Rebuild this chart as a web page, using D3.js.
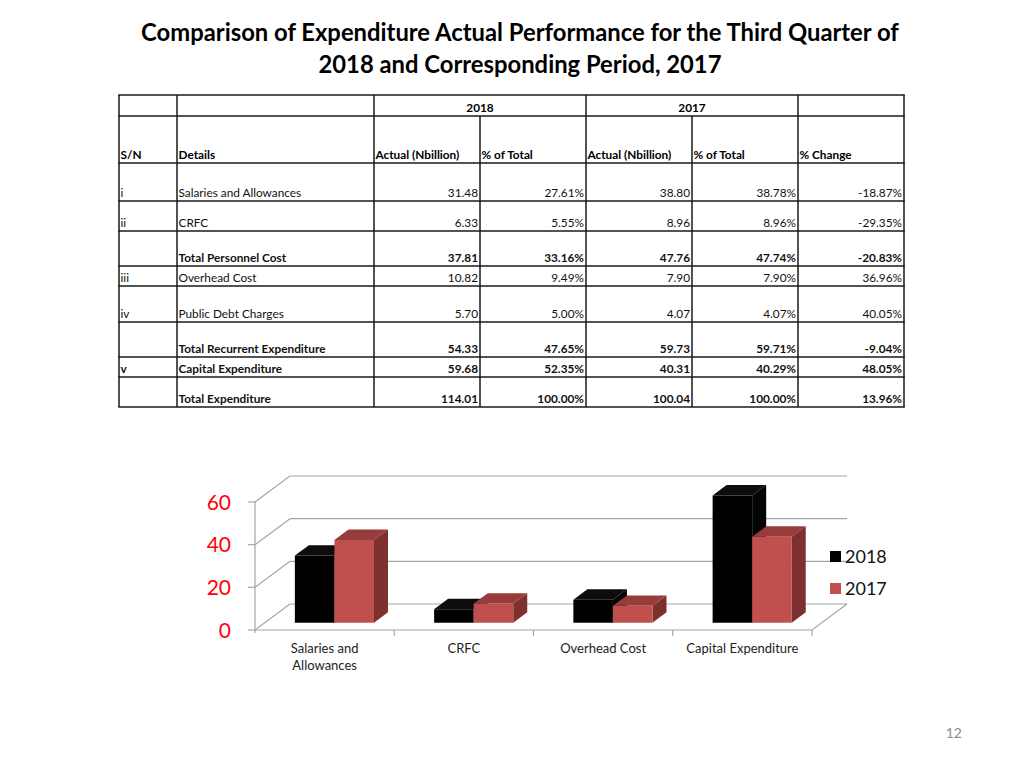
<!DOCTYPE html>
<html>
  <head>
    <meta charset="utf-8">
    <title>Expenditure comparison</title>
    <script src="https://cdn.jsdelivr.net/npm/d3@7"></script>
    <style>
      body { margin: 0; background: #fff; }
      svg { display: block; font-family: Lato, "Open Sans", sans-serif; }
    </style>
  </head>
  <body>
    <svg id="slide" width="1024" height="768"></svg>

    <script>
      // table data
      tableSn = ["i", "ii", "", "iii", "iv", "", "v", ""];
      tableDetails = [
        "Salaries and Allowances",
        "CRFC",
        "Total Personnel Cost",
        "Overhead Cost",
        "Public Debt Charges",
        "Total Recurrent Expenditure",
        "Capital Expenditure",
        "Total Expenditure"
      ];
      boldRows = [false, false, true, false, false, true, true, true];
      actual2018 = [31.48, 6.33, 37.81, 10.82, 5.70, 54.33, 59.68, 114.01];
      share2018 = [27.61, 5.55, 33.16, 9.49, 5.00, 47.65, 52.35, 100.00];
      actual2017 = [38.80, 8.96, 47.76, 7.90, 4.07, 59.73, 40.31, 100.04];
      share2017 = [38.78, 8.96, 47.74, 7.90, 4.07, 59.71, 40.29, 100.00];
      pctChange = [-18.87, -29.35, -20.83, 36.96, 40.05, -9.04, 48.05, 13.96];
      headerLabels = ["S/N", "Details", "Actual (Nbillion)", "% of Total", "Actual (Nbillion)", "% of Total", "% Change"];

      // chart data
      categories = ["Salaries and Allowances", "CRFC", "Overhead Cost", "Capital Expenditure"];
      series = ["2018", "2017"];
      values2018 = [31.48, 6.33, 10.82, 59.68];
      values2017 = [38.80, 8.96, 7.90, 40.31];
      yTicks = [0, 20, 40, 60];

      // layout
      colEdges = [119, 177, 374, 480, 586, 692, 798, 904];
      rowHeights = [38, 30, 35, 20, 36, 35, 20, 30];
      tableTop = 95;
      headRow1 = 21;
      headRow2 = 47;
      cellFont = "11.8px";

      svg = d3.select("#slide");

      // title
      svg.append("g")
        .selectAll("text")
        .data(["Comparison of Expenditure Actual Performance for the Third Quarter of", "2018 and Corresponding Period, 2017"])
        .enter().append("text")
          .attr("x", 520)
          .attr("y", function(d, i) { return 41 + i * 32; })
          .attr("text-anchor", "middle")
          .style("font-size", "23.8px")
          .style("font-weight", "bold")
          .style("fill", "#000")
          .text(function(d) { return d; });

      // table
      table = svg.append("g").attr("id", "table");
      rowBottoms = [];
      acc = tableTop + headRow1 + headRow2;
      rowHeights.forEach(function(h) { acc += h; rowBottoms.push(acc); });
      tableBottom = acc;
      lineColour = "#1a1a1a";

      // horizontal lines
      hLines = [tableTop, tableTop + headRow1, tableTop + headRow1 + headRow2].concat(rowBottoms);
      table.selectAll(".hline")
        .data(hLines)
        .enter().append("line")
          .attr("x1", colEdges[0] - 0.75)
          .attr("x2", colEdges[colEdges.length - 1] + 0.75)
          .attr("y1", function(d) { return d; })
          .attr("y2", function(d) { return d; })
          .style("stroke", lineColour)
          .style("stroke-width", 1.5);

      // vertical lines (split columns start below the year row)
      table.selectAll(".vline")
        .data(colEdges)
        .enter().append("line")
          .attr("x1", function(d) { return d; })
          .attr("x2", function(d) { return d; })
          .attr("y1", function(d, i) { return (i == 3 || i == 5) ? tableTop + headRow1 : tableTop; })
          .attr("y2", tableBottom)
          .style("stroke", lineColour)
          .style("stroke-width", 1.5);

      // year headers
      table.selectAll(".year")
        .data(series)
        .enter().append("text")
          .attr("x", function(d, i) { return (colEdges[2 + i * 2] + colEdges[4 + i * 2]) / 2; })
          .attr("y", tableTop + headRow1 - 4)
          .attr("text-anchor", "middle")
          .style("font-size", cellFont)
          .style("font-weight", "bold")
          .text(function(d) { return d; });

      // column headers
      table.selectAll(".head")
        .data(headerLabels)
        .enter().append("text")
          .attr("x", function(d, i) { return colEdges[i] + 1.5; })
          .attr("y", tableTop + headRow1 + headRow2 - 4)
          .style("font-size", cellFont)
          .style("font-weight", "bold")
          .text(function(d) { return d; });

      // plain hyphen for negatives, as in the source table
      fmtNum = function(v) { return v.toFixed(2); };
      fmtPct = function(v) { return v.toFixed(2) + "%"; };

      rows = table.selectAll(".row")
        .data(tableDetails.map(function(d, i) {
          return {
            cells: [tableSn[i], d, fmtNum(actual2018[i]), fmtPct(share2018[i]), fmtNum(actual2017[i]), fmtPct(share2017[i]), fmtPct(pctChange[i])],
            bold: boldRows[i],
            y: rowBottoms[i] - 4
          };
        }))
        .enter().append("g")
          .attr("class", "row");

      rows.selectAll("text")
        .data(function(r) {
          return r.cells.map(function(c, j) { return { text: c, col: j, bold: r.bold, y: r.y }; });
        })
        .enter().append("text")
          .attr("x", function(d) { return d.col < 2 ? colEdges[d.col] + 1.5 : colEdges[d.col + 1] - 2; })
          .attr("y", function(d) { return d.y; })
          .attr("text-anchor", function(d) { return d.col < 2 ? "start" : "end"; })
          .style("font-size", cellFont)
          .style("font-weight", function(d) { return d.bold ? "bold" : "normal"; })
          .style("fill", "#111")
          .text(function(d) { return d.text; });

      // 3D column chart
      chart = svg.append("g").attr("id", "chart");
      depth = { dx: 35, dy: -26 };
      barDepth = [0.28, 0.68];

      x = d3.scaleBand()
        .domain(categories)
        .range([255, 812]);
      xInner = d3.scaleBand()
        .domain(series)
        .range([0, x.bandwidth()])
        .paddingOuter(0.76);
      y = d3.scaleLinear()
        .domain([0, 60])
        .range([630, 502]);

      gridColour = "#a6a6a6";

      // back wall gridlines
      chart.selectAll(".grid")
        .data(yTicks)
        .enter().append("line")
          .attr("x1", x.range()[0] + depth.dx)
          .attr("x2", x.range()[1] + depth.dx)
          .attr("y1", function(d) { return y(d) + depth.dy; })
          .attr("y2", function(d) { return y(d) + depth.dy; })
          .style("stroke", gridColour)
          .style("stroke-width", 1.2);

      // side wall gridlines
      chart.selectAll(".sidegrid")
        .data(yTicks)
        .enter().append("line")
          .attr("x1", x.range()[0])
          .attr("x2", x.range()[0] + depth.dx)
          .attr("y1", function(d) { return y(d); })
          .attr("y2", function(d) { return y(d) + depth.dy; })
          .style("stroke", gridColour)
          .style("stroke-width", 1.2);

      // floor front and right edges
      chart.append("path")
        .attr("d", "M" + x.range()[0] + "," + y(0) + "L" + x.range()[1] + "," + y(0) +
                   "L" + (x.range()[1] + depth.dx) + "," + (y(0) + depth.dy))
        .style("fill", "none")
        .style("stroke", gridColour)
        .style("stroke-width", 1.2);

      // value axis
      chart.append("line")
        .attr("x1", x.range()[0]).attr("x2", x.range()[0])
        .attr("y1", y(60)).attr("y2", y(0) + 3)
        .style("stroke", gridColour)
        .style("stroke-width", 1.2);
      chart.selectAll(".ytick")
        .data(yTicks)
        .enter().append("line")
          .attr("x1", x.range()[0] - 7)
          .attr("x2", x.range()[0])
          .attr("y1", function(d) { return y(d); })
          .attr("y2", function(d) { return y(d); })
          .style("stroke", gridColour)
          .style("stroke-width", 1.2);
      chart.selectAll(".ylabel")
        .data(yTicks)
        .enter().append("text")
          .attr("x", 231)
          .attr("y", function(d) { return y(d) + 7.5; })
          .attr("text-anchor", "end")
          .style("font-size", "21px")
          .style("fill", "#f00")
          .text(function(d) { return d; });

      // category ticks
      chart.selectAll(".xtick")
        .data(categories)
        .enter().append("line")
          .attr("x1", function(d) { return x(d) + x.bandwidth(); })
          .attr("x2", function(d) { return x(d) + x.bandwidth(); })
          .attr("y1", y(0))
          .attr("y2", y(0) + 6)
          .style("stroke", gridColour)
          .style("stroke-width", 1.2);

      // category labels
      catLabels = chart.selectAll(".xlabel")
        .data(categories)
        .enter().append("text")
          .attr("text-anchor", "middle")
          .style("font-size", "13px")
          .style("fill", "#222");
      catLabels.each(function(d) {
        lines = d == "Salaries and Allowances" ? ["Salaries and", "Allowances"] : [d];
        cx = x(d) + x.bandwidth() / 2;
        d3.select(this).selectAll("tspan")
          .data(lines)
          .enter().append("tspan")
            .attr("x", cx)
            .attr("y", function(l, i) { return 653 + i * 17; })
            .text(function(l) { return l; });
      });

      // bars
      barStyles = {
        "2018": { front: "#000000", top: "#0d0d0d", side: "#050505" },
        "2017": { front: "#c0504d", top: "#963d3b", side: "#7d302e" }
      };
      barData = [];
      categories.forEach(function(c, i) {
        barData.push({ cat: c, s: "2018", v: values2018[i] });
        barData.push({ cat: c, s: "2017", v: values2017[i] });
      });

      function pt(px, py, t) {
        return [px + depth.dx * t, py + depth.dy * t];
      }

      bars = chart.selectAll(".bar")
        .data(barData)
        .enter().append("g")
          .attr("class", "bar");

      bars.each(function(d) {
        g = d3.select(this);
        x0 = x(d.cat) + xInner(d.s);
        x1 = x0 + xInner.bandwidth();
        yb = y(0);
        yt = y(d.v);
        t0 = barDepth[0];
        t1 = barDepth[1];
        line = d3.line();
        // side
        g.append("path")
          .attr("d", line([pt(x1, yb, t0), pt(x1, yb, t1), pt(x1, yt, t1), pt(x1, yt, t0)]) + "Z")
          .style("fill", barStyles[d.s].side);
        // top
        g.append("path")
          .attr("d", line([pt(x0, yt, t0), pt(x0, yt, t1), pt(x1, yt, t1), pt(x1, yt, t0)]) + "Z")
          .style("fill", barStyles[d.s].top);
        // front
        g.append("path")
          .attr("d", line([pt(x0, yb, t0), pt(x0, yt, t0), pt(x1, yt, t0), pt(x1, yb, t0)]) + "Z")
          .style("fill", barStyles[d.s].front);
      });

      // legend
      legend = svg.append("g")
        .attr("id", "legend")
        .attr("transform", "translate(830, 551)");
      legendItems = legend.selectAll(".item")
        .data(series)
        .enter().append("g")
          .attr("transform", function(d, i) { return "translate(0," + (i * 32) + ")"; });
      legendItems.append("rect")
        .attr("width", 11)
        .attr("height", 11)
        .style("fill", function(d) { return barStyles[d].front; });
      legendItems.append("text")
        .attr("x", 15)
        .attr("y", 12)
        .style("font-size", "18px")
        .style("fill", "#111")
        .text(function(d) { return d; });

      // page number
      svg.append("text")
        .attr("x", 962)
        .attr("y", 738)
        .attr("text-anchor", "end")
        .style("font-size", "14px")
        .style("fill", "#8c8c8c")
        .text("12");
    </script>
  </body>
</html>
